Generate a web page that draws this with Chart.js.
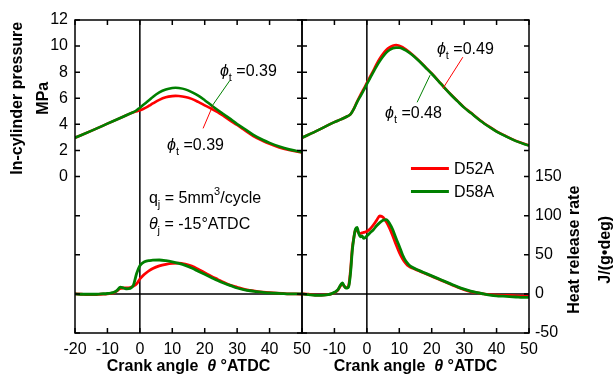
<!DOCTYPE html>
<html>
<head>
<meta charset="utf-8">
<script src="https://cdn.jsdelivr.net/npm/chart.js@4.4.0/dist/chart.umd.min.js"></script>
<style>
html, body { margin: 0; padding: 0; background: #fff; }
#wrap { position: relative; width: 616px; height: 377px; }
#wrap canvas { position: absolute; left: 0; top: 0; }
</style>
</head>
<body>
<div id="wrap">
  <canvas id="left" width="616" height="377"></canvas>
  <canvas id="right" width="616" height="377"></canvas>
</div>
<script>
// ---- data ----
var thetaTicks = [-20, -10, 0, 10, 20, 30, 40, 50];
var pTicks = [0, 2, 4, 6, 8, 10, 12];
var hrTicks = [-50, 0, 50, 100, 150];

// left panel: in-cylinder pressure (MPa)
var pAngL = [-20, -15, -10, -5, -3, -2, -1, 0, 1, 2, 3, 4, 6, 8, 10, 11, 12, 14, 16, 18, 20, 22, 24, 26, 28, 30, 32, 35, 38, 40, 43, 46, 50];
var pRedL = [2.97, 3.5, 4.05, 4.6, 4.82, 4.92, 5.0, 5.08, 5.18, 5.3, 5.45, 5.6, 5.88, 6.07, 6.16, 6.18, 6.17, 6.1, 5.95, 5.72, 5.46, 5.2, 4.93, 4.6, 4.27, 3.95, 3.6, 3.1, 2.72, 2.5, 2.22, 2.03, 1.85];
var pGrnL = [2.97, 3.5, 4.05, 4.6, 4.83, 4.93, 5.08, 5.28, 5.48, 5.68, 5.88, 6.1, 6.45, 6.67, 6.78, 6.8, 6.78, 6.68, 6.47, 6.2, 5.85, 5.47, 5.1, 4.75, 4.4, 4.02, 3.7, 3.2, 2.8, 2.58, 2.3, 2.08, 1.87];

// right panel: in-cylinder pressure (MPa)
var pAngR = [-20, -15, -10, -8, -6, -5, -4, -3, -2, -1, 0, 1, 2, 3, 4, 5, 6, 7, 8, 9, 10, 11, 12, 14, 16, 18, 20, 22, 24, 26, 28, 30, 32, 35, 38, 40, 43, 46, 50];
var pRedR = [2.97, 3.55, 4.17, 4.38, 4.62, 4.78, 5.2, 5.75, 6.25, 6.7, 7.18, 7.65, 8.12, 8.62, 9.05, 9.4, 9.7, 9.9, 10.03, 10.08, 10.03, 9.92, 9.75, 9.35, 8.9, 8.4, 7.9, 7.36, 6.8, 6.27, 5.78, 5.3, 4.9, 4.3, 3.78, 3.46, 3.08, 2.73, 2.38];
var pGrnR = [2.97, 3.55, 4.17, 4.38, 4.62, 4.78, 5.18, 5.7, 6.15, 6.6, 7.08, 7.55, 8.0, 8.45, 8.85, 9.2, 9.5, 9.7, 9.83, 9.88, 9.87, 9.8, 9.67, 9.32, 8.88, 8.38, 7.88, 7.34, 6.78, 6.25, 5.76, 5.28, 4.88, 4.28, 3.76, 3.44, 3.06, 2.71, 2.37];

// left panel: heat release rate J/(g deg)
var hAngL = [-20, -18, -16, -14, -12, -10, -9, -8, -7, -6, -5, -4, -3, -2, -1, 0, 1, 2, 3, 4, 6, 8, 10, 12, 14, 16, 18, 20, 22, 24, 26, 28, 30, 32, 34, 36, 38, 40, 42, 44, 46, 48, 50];
var hRedL = [0, -0.5, -1, -1, -0.5, 0, 0.5, 1.5, 4, 7, 7.5, 7.5, 8, 10, 13, 19, 23.5, 27, 30, 32.5, 35.8, 37.8, 39, 39.3, 38, 35.5, 31.5, 27, 22.5, 18.5, 14.5, 11, 8.5, 6, 4.5, 3.2, 2.2, 1.5, 1, 0.5, 0, 0, -0.5];
var hGrnL = [0, -0.5, -0.5, -0.5, 0, 0.5, 1, 2, 4.5, 8.5, 7.5, 6.5, 7, 11, 26, 36, 40, 41.8, 42.5, 43, 43.3, 42.5, 41, 39, 36.5, 33, 29, 25, 21, 17, 13.5, 10.5, 7.5, 5.5, 4, 3, 2, 1.2, 0.8, 0.3, 0, 0, 0];

// right panel: heat release rate J/(g deg)
var hAngR = [-20, -18, -16, -14, -12, -11, -10, -9, -8, -7.5, -7, -6.5, -6, -5.5, -5, -4.5, -4, -3.5, -3, -2.5, -2, -1.5, -1, -0.5, 0, 1, 2, 3, 4, 5, 6, 7, 8, 9, 10, 11, 12, 13, 14, 16, 18, 20, 22, 24, 26, 28, 30, 32, 34, 36, 38, 40, 42, 44, 46, 48, 50];
var hRedR = [0, -0.5, -1.5, -1.5, -1, 0, 1.5, 4.5, 11, 12.5, 10, 8, 8, 13, 32, 58, 72, 82, 81, 78, 77, 78, 78.5, 79, 80, 83, 88, 94, 99.5, 98, 92, 84, 74, 63, 53, 45, 39, 35, 33, 29.5, 26, 22.5, 19, 15.5, 12, 8.5, 5.5, 3, 1.5, 0, -1, -1.5, -2, -2, -2.5, -3, -3];
var hGrnR = [0, -1, -2, -2, -1, 0, 2, 5, 12, 14, 10, 7.5, 7.5, 11, 28, 55, 72, 83, 85, 77, 73, 74, 71, 72, 74, 78, 82, 87, 91, 94, 95, 90, 82, 71, 61, 50, 42, 37, 34, 30, 26.5, 23, 19.5, 16, 12.5, 9, 6, 3.5, 1.5, 0, -1.5, -2.5, -3, -3.5, -4, -4.5, -4.5];

var RED = '#ff0000';
var GREEN = '#008000';
var FONT = '"Liberation Sans", Arial, sans-serif';

function zip(xs, ys) {
  return xs.map(function (x, i) { return { x: x, y: ys[i] }; });
}

function line(label, xs, ys, color, axis, width, order) {
  return {
    label: label,
    data: zip(xs, ys),
    borderColor: color,
    backgroundColor: color,
    borderWidth: width,
    pointRadius: 0,
    fill: false,
    cubicInterpolationMode: 'monotone',
    yAxisID: axis,
    order: order
  };
}

// draw a run of text pieces, each with its own font and vertical shift
function drawRuns(ctx, runs, x, y, align) {
  var total = 0;
  runs.forEach(function (r) { ctx.font = r.font; r.w = ctx.measureText(r.t).width; total += r.w; });
  var cx = align === 'center' ? x - total / 2 : x;
  ctx.textAlign = 'left';
  ctx.textBaseline = 'alphabetic';
  runs.forEach(function (r) {
    ctx.font = r.font;
    ctx.fillText(r.t, cx, y + (r.dy || 0));
    cx += r.w;
  });
}

function f(size, style) { return (style ? style + ' ' : '') + size + 'px ' + FONT; }

function phiRuns(val) {
  return [
    { t: '\u03D5', font: f(16, 'italic') },
    { t: 't', font: f(11), dy: 5 },
    { t: ' =' + val, font: f(16) }
  ];
}

var axisTitleRuns = [
  { t: 'Crank angle  ', font: f(16, 'bold') },
  { t: '\u03B8', font: f(16, 'italic bold') },
  { t: ' \u00B0ATDC', font: f(16, 'bold') }
];

var noGrid = { display: false, drawTicks: false, tickLength: 0 };

function makeScales(isLeft) {
  var tickFont = { family: FONT, size: 16 };
  return {
    x: {
      type: 'linear', min: -20, max: 50,
      afterBuildTicks: function (s) { s.ticks = thetaTicks.map(function (v) { return { value: v }; }); },
      ticks: {
        autoSkip: false, maxRotation: 0, padding: 7, color: '#000', font: tickFont,
        callback: function (v) { return (!isLeft && v === -20) ? '' : v; }
      },
      grid: noGrid, border: { display: false },
      afterFit: function (s) { s.height = 44; }
    },
    y: {
      type: 'linear', position: 'left', min: -12, max: 12, display: isLeft,
      afterBuildTicks: function (s) { s.ticks = pTicks.map(function (v) { return { value: v }; }); },
      ticks: { padding: 7, color: '#000', font: tickFont },
      grid: noGrid, border: { display: false },
      afterFit: function (s) { s.width = isLeft ? 75 : 0; }
    },
    y2: {
      type: 'linear', position: 'right', min: -50, max: 350, display: !isLeft,
      afterBuildTicks: function (s) { s.ticks = hrTicks.map(function (v) { return { value: v }; }); },
      ticks: { padding: 6, color: '#000', font: tickFont },
      grid: noGrid, border: { display: false },
      afterFit: function (s) { s.width = isLeft ? 0 : 87; }
    }
  };
}

function panelPlugin(isLeft) {
  return {
    id: 'panel' + (isLeft ? 'L' : 'R'),
    beforeDatasetsDraw: function (chart) {
      var ctx = chart.ctx, a = chart.chartArea, sx = chart.scales.x, sh = chart.scales.y2;
      ctx.save();
      ctx.strokeStyle = '#000';
      ctx.lineWidth = 1.5;
      var y0 = sh.getPixelForValue(0);
      var x0 = sx.getPixelForValue(0);
      ctx.beginPath();
      ctx.moveTo(a.left, y0); ctx.lineTo(a.right, y0);
      ctx.moveTo(x0, a.top); ctx.lineTo(x0, a.bottom);
      ctx.stroke();
      ctx.restore();
    },
    afterDatasetsDraw: function (chart) {
      var ctx = chart.ctx, a = chart.chartArea;
      var sx = chart.scales.x, sp = chart.scales.y, sh = chart.scales.y2;
      var L = 5;
      ctx.save();
      ctx.strokeStyle = '#000';
      ctx.lineWidth = 1.5;
      ctx.strokeRect(a.left, a.top, a.right - a.left, a.bottom - a.top);
      ctx.beginPath();
      var ys = pTicks.map(function (v) { return sp.getPixelForValue(v); })
        .concat(hrTicks.map(function (v) { return sh.getPixelForValue(v); }));
      ys.forEach(function (y) {
        ctx.moveTo(a.left, y); ctx.lineTo(a.left + L, y);
        ctx.moveTo(a.right, y); ctx.lineTo(a.right - L, y);
      });
      thetaTicks.forEach(function (v) {
        var x = sx.getPixelForValue(v);
        ctx.moveTo(x, a.bottom); ctx.lineTo(x, a.bottom - L);
        ctx.moveTo(x, a.top); ctx.lineTo(x, a.top + L);
      });
      ctx.stroke();
      ctx.restore();
    },
    afterDraw: function (chart) {
      var ctx = chart.ctx, a = chart.chartArea;
      var sx = chart.scales.x, sp = chart.scales.y, sh = chart.scales.y2;
      function X(v) { return sx.getPixelForValue(v); }
      function Y(v) { return sp.getPixelForValue(v); }
      function leader(color, t1, p1, t2, p2) {
        ctx.strokeStyle = color; ctx.lineWidth = 1;
        ctx.beginPath(); ctx.moveTo(X(t1), Y(p1)); ctx.lineTo(X(t2), Y(p2)); ctx.stroke();
      }
      ctx.save();
      ctx.fillStyle = '#000';
      // x axis title
      drawRuns(ctx, axisTitleRuns, (a.left + a.right) / 2, 371, 'center');

      if (isLeft) {
        // y title
        var yc = (Y(0) + Y(12)) / 2;
        ctx.save();
        ctx.translate(18, yc); ctx.rotate(-Math.PI / 2);
        ctx.font = f(16, 'bold'); ctx.textAlign = 'center'; ctx.textBaseline = 'middle';
        ctx.fillText('In-cylinder pressure', 0, 0);
        ctx.restore();
        ctx.save();
        ctx.translate(44, yc); ctx.rotate(-Math.PI / 2);
        ctx.font = f(16, 'bold'); ctx.textAlign = 'center'; ctx.textBaseline = 'middle';
        ctx.fillText('MPa', 0, 0);
        ctx.restore();

        leader(GREEN, 27.8, 7.38, 22.2, 5.38);
        leader(RED, 19.5, 3.69, 22.4, 5.38);
        drawRuns(ctx, phiRuns('0.39'), X(24.7), Y(7.69), 'left');
        drawRuns(ctx, phiRuns('0.39'), X(8.4), Y(2.0), 'left');

        drawRuns(ctx, [
          { t: 'q', font: f(16) },
          { t: 'j', font: f(11), dy: 5 },
          { t: ' = 5mm', font: f(16) },
          { t: '3', font: f(11), dy: -8 },
          { t: '/cycle', font: f(16) }
        ], X(2.8), Y(-2.0), 'left');
        drawRuns(ctx, [
          { t: '\u03B8', font: f(16, 'italic') },
          { t: 'j', font: f(11), dy: 5 },
          { t: ' = -15\u00B0ATDC', font: f(16) }
        ], X(2.8), Y(-4.04), 'left');
      } else {
        var hc = (sh.getPixelForValue(-50) + sh.getPixelForValue(150)) / 2 - 5;
        ctx.save();
        ctx.translate(575, hc); ctx.rotate(-Math.PI / 2);
        ctx.font = f(16, 'bold'); ctx.textAlign = 'center'; ctx.textBaseline = 'middle';
        ctx.fillText('Heat release rate', 0, 0);
        ctx.restore();
        ctx.save();
        ctx.translate(606, hc); ctx.rotate(-Math.PI / 2);
        ctx.font = f(16, 'bold'); ctx.textAlign = 'center'; ctx.textBaseline = 'middle';
        ctx.fillText('J/(g\u2022deg)', 0, 0);
        ctx.restore();

        leader(RED, 29.6, 9.15, 23.5, 6.77);
        leader(GREEN, 15.5, 5.69, 19.5, 7.77);
        drawRuns(ctx, phiRuns('0.49'), X(21.6), Y(9.38), 'left');
        drawRuns(ctx, phiRuns('0.48'), X(5.6), Y(4.46), 'left');

        // legend
        var items = [['D52A', RED, 0.62], ['D58A', GREEN, -1.15]];
        items.forEach(function (it) {
          var y = Y(it[2]);
          ctx.strokeStyle = it[1]; ctx.lineWidth = 3;
          ctx.beginPath(); ctx.moveTo(X(13.6), y); ctx.lineTo(X(25.3), y); ctx.stroke();
          ctx.font = f(16); ctx.textAlign = 'left'; ctx.textBaseline = 'middle';
          ctx.fillText(it[0], X(26.9), y + 1);
        });
      }
      ctx.restore();
    }
  };
}

function makeChart(id, isLeft, pAng, pRed, pGrn, hAng, hRed, hGrn) {
  return new Chart(document.getElementById(id), {
    type: 'line',
    data: {
      datasets: [
        line('D52A', pAng, pRed, RED, 'y', 2.6, 1),
        line('D58A', pAng, pGrn, GREEN, 'y', 2.6, 0),
        line('D52A', hAng, hRed, RED, 'y2', 2.8, 1),
        line('D58A', hAng, hGrn, GREEN, 'y2', 2.8, 0)
      ]
    },
    options: {
      responsive: false,
      animation: false,
      devicePixelRatio: 1,
      layout: { padding: isLeft ? { left: 0, right: 314, top: 20, bottom: 0 } : { left: 302, right: 0, top: 20, bottom: 0 } },
      plugins: { legend: { display: false }, tooltip: { enabled: false } },
      scales: makeScales(isLeft)
    },
    plugins: [panelPlugin(isLeft)]
  });
}

makeChart('left', true, pAngL, pRedL, pGrnL, hAngL, hRedL, hGrnL);
makeChart('right', false, pAngR, pRedR, pGrnR, hAngR, hRedR, hGrnR);
</script>
</body>
</html>
